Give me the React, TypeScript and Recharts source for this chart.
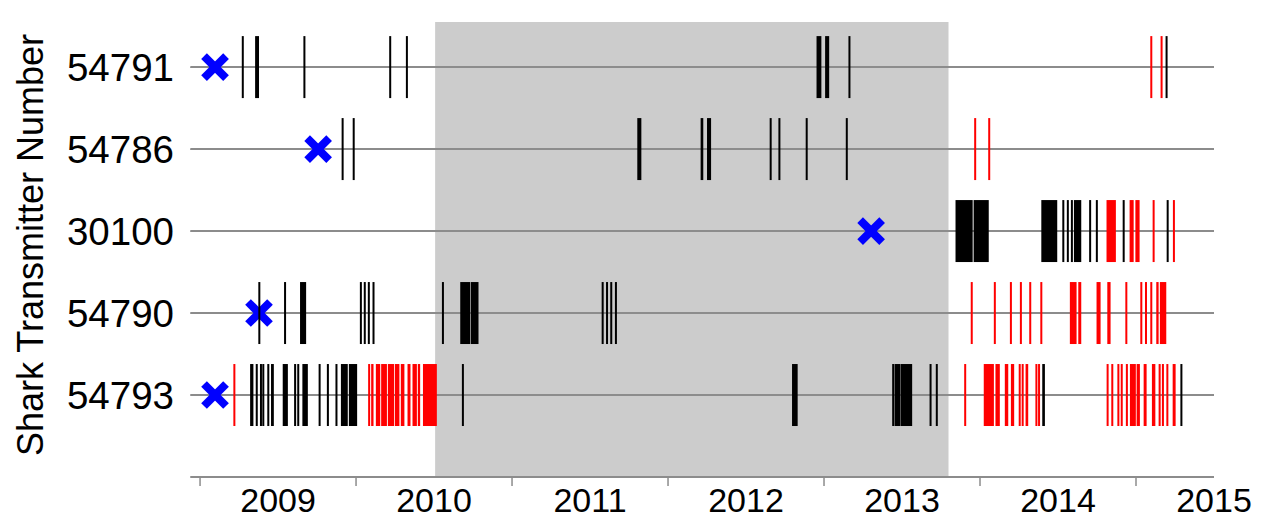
import { ComposedChart, XAxis, YAxis, Scatter, ReferenceArea, ReferenceLine } from 'recharts';

// A detection is a single date or a [start, end] run of detections (decimal years)
type Mark = number | [number, number];

// rows, bottom first (row value 1..5)
const transmitters = ['54793', '54790', '30100', '54786', '54791'];
// date each shark was tagged
const taggedAt = [2009.096, 2009.378, 2013.302, 2009.757, 2009.096];

// grey band on the time axis
const shadedPeriod: [number, number] = [2010.507, 2013.798];

// year boundaries; each label sits in the middle of its year
const yearTicks = [2009, 2010, 2011, 2012, 2013, 2014, 2015];

const det54791Black: Mark[] = [
  2009.274, [2009.353, 2009.378], 2009.669, 2010.219, 2010.326,
  [2012.952, 2012.983], [2013.007, 2013.033], 2013.163, 2015.196,
];
const det54791Red: Mark[] = [2015.098, 2015.164];

const det54786Black: Mark[] = [
  2009.914, 2009.985, [2011.803, 2011.829], [2012.209, 2012.226], [2012.25, 2012.276],
  2012.658, 2012.714, 2012.889, 2013.146,
];
const det54786Red: Mark[] = [2013.969, 2014.059];

const det30100Black: Mark[] = [
  [2013.843, 2013.953], [2013.959, 2014.056], [2014.393, 2014.495], 2014.534, 2014.563,
  2014.589, [2014.602, 2014.649], 2014.706, 2014.749, 2014.921, 2015.203,
];
const det30100Red: Mark[] = [
  [2014.811, 2014.871], [2014.959, 2014.985], [2014.996, 2015.023], 2015.113, 2015.243,
];

const det54790Black: Mark[] = [
  2009.38, 2009.545, [2009.641, 2009.68], 2010.031, 2010.056, 2010.082, 2010.112,
  2010.557, [2010.668, 2010.732], [2010.736, 2010.785], 2011.581, 2011.609, 2011.636, 2011.666,
];
const det54790Red: Mark[] = [
  2013.947, 2014.095, 2014.198, 2014.262, 2014.322, 2014.393, [2014.576, 2014.619],
  [2014.63, 2014.649], [2014.747, 2014.773], [2014.816, 2014.837], 2014.938, 2015.034,
  2015.064, 2015.098, [2015.13, 2015.145], [2015.153, 2015.194],
];

const det54793Black: Mark[] = [
  [2009.321, 2009.342], [2009.357, 2009.37], [2009.385, 2009.396], [2009.4, 2009.411],
  [2009.432, 2009.443], [2009.455, 2009.473], [2009.53, 2009.563], [2009.603, 2009.616],
  [2009.624, 2009.635], [2009.656, 2009.691], [2009.761, 2009.772], [2009.813, 2009.826],
  [2009.87, 2009.879], [2009.903, 2009.947], [2009.954, 2010.007], 2010.685,
  [2012.795, 2012.831], [2013.437, 2013.452], [2013.455, 2013.49], [2013.492, 2013.565],
  2013.683, 2013.723, [2014.399, 2014.416], 2015.291,
];
const det54793Red: Mark[] = [
  2009.22, [2010.078, 2010.09], [2010.097, 2010.112], [2010.127, 2010.155], [2010.161, 2010.198],
  [2010.204, 2010.244], [2010.249, 2010.278], [2010.287, 2010.31], [2010.33, 2010.349],
  [2010.362, 2010.39], [2010.396, 2010.411], [2010.429, 2010.518], 2013.905,
  [2014.024, 2014.089], [2014.099, 2014.127], [2014.159, 2014.181], [2014.198, 2014.219],
  [2014.249, 2014.26], [2014.268, 2014.279], [2014.292, 2014.309], [2014.356, 2014.367],
  [2014.373, 2014.384], 2014.818, 2014.848, 2014.887, [2014.903, 2014.914],
  [2014.935, 2014.948], [2014.961, 2014.999], [2015.004, 2015.025], [2015.049, 2015.068],
  [2015.102, 2015.124], [2015.145, 2015.158], [2015.166, 2015.179], 2015.201,
  [2015.235, 2015.254],
];

const rows = [
  { row: 1, black: det54793Black, red: det54793Red },
  { row: 2, black: det54790Black, red: det54790Red },
  { row: 3, black: det30100Black, red: det30100Red },
  { row: 4, black: det54786Black, red: det54786Red },
  { row: 5, black: det54791Black, red: det54791Red },
];

const FONT = '"Liberation Sans", Arial, sans-serif';
const GRID = '#8c8c8c';
const X_DOMAIN: [number, number] = [2008.942, 2015.5];
const HALF = 0.378; // half height of a detection mark, in row units

// chart box
const WIDTH = 1253;
const HEIGHT = 511;
const MARGIN = { top: 14, right: 47, bottom: 0, left: 0 };
const Y_AXIS_W = 183;
const PLOT_W = WIDTH - MARGIN.left - MARGIN.right - Y_AXIS_W;
const HALF_YEAR_PX = PLOT_W / (X_DOMAIN[1] - X_DOMAIN[0]) / 2;

const tagPoints = taggedAt.map((x, i) => ({ x, y: i + 1 }));

const marks = rows.flatMap((r) =>
  [
    ...r.black.map((m) => ({ m, color: '#000000' })),
    ...r.red.map((m) => ({ m, color: '#ff0000' })),
  ].map(({ m, color }) => {
    const [x1, x2] = Array.isArray(m) ? m : [m, m];
    return { x1, x2, row: r.row, color };
  })
);

// thin marks get a minimum width so single detections stay visible
const MarkShape = (props: any) => {
  const { x, y, width, height, fill } = props;
  const w = Math.max(width, 2);
  return <rect x={x + width / 2 - w / 2} y={y} width={w} height={height} fill={fill} />;
};

const TagCross = (props: any) => {
  const { cx, cy } = props;
  const d = 11;
  return (
    <g stroke="#0000ff" strokeWidth={8}>
      <line x1={cx - d} y1={cy - d} x2={cx + d} y2={cy + d} />
      <line x1={cx - d} y1={cy + d} x2={cx + d} y2={cy - d} />
    </g>
  );
};

const RowTick = (props: any) => {
  const { y, payload } = props;
  const name = payload.value > 0 ? transmitters[payload.value - 1] : '';
  return (
    <g>
      <line x1={182} x2={192} y1={y} y2={y} stroke={GRID} strokeWidth={1.5} />
      <text x={166} y={y + 14} textAnchor="end" fontSize={38.5} fontFamily={FONT} fill="#000">
        {name}
      </text>
    </g>
  );
};

const YearLabel = (props: any) => {
  const { x, payload } = props;
  return (
    <text x={x + HALF_YEAR_PX} y={504} textAnchor="middle" fontSize={34} fontFamily={FONT} fill="#000">
      {payload.value}
    </text>
  );
};

export default function App() {
  return (
    <ComposedChart width={WIDTH} height={HEIGHT} margin={MARGIN}>
      <XAxis
        dataKey="x"
        type="number"
        domain={X_DOMAIN}
        allowDataOverflow
        ticks={yearTicks}
        interval={0}
        height={42}
        tickSize={9}
        axisLine={{ stroke: GRID, strokeWidth: 2 }}
        tickLine={{ stroke: GRID, strokeWidth: 1.5 }}
        tick={<YearLabel />}
      />
      <YAxis
        dataKey="y"
        type="number"
        domain={[0, 5.55]}
        allowDataOverflow
        ticks={[0, 1, 2, 3, 4, 5]}
        interval={0}
        width={Y_AXIS_W}
        axisLine={false}
        tickLine={false}
        tick={<RowTick />}
        label={() => (
          <text
            x={35}
            y={237}
            transform="rotate(-90 35 237)"
            textAnchor="middle"
            fontSize={36}
            fontFamily={FONT}
            fill="#000"
          >
            Shark Transmitter Number
          </text>
        )}
      />
      <ReferenceArea
        x1={shadedPeriod[0]}
        x2={shadedPeriod[1]}
        fill="#cccccc"
        fillOpacity={1}
        stroke="none"
      />
      {rows.map((r) => (
        <ReferenceLine key={`row-${r.row}`} y={r.row} stroke={GRID} strokeWidth={2} />
      ))}
      <Scatter data={tagPoints} dataKey="y" shape={<TagCross />} isAnimationActive={false} />
      {marks.map((k, i) => (
        <ReferenceArea
          key={`mark-${i}`}
          x1={k.x1}
          x2={k.x2}
          y1={k.row - HALF}
          y2={k.row + HALF}
          fill={k.color}
          fillOpacity={1}
          stroke="none"
          shape={<MarkShape />}
          {...({ zIndex: 650 } as any)}
        />
      ))}
    </ComposedChart>
  );
}
